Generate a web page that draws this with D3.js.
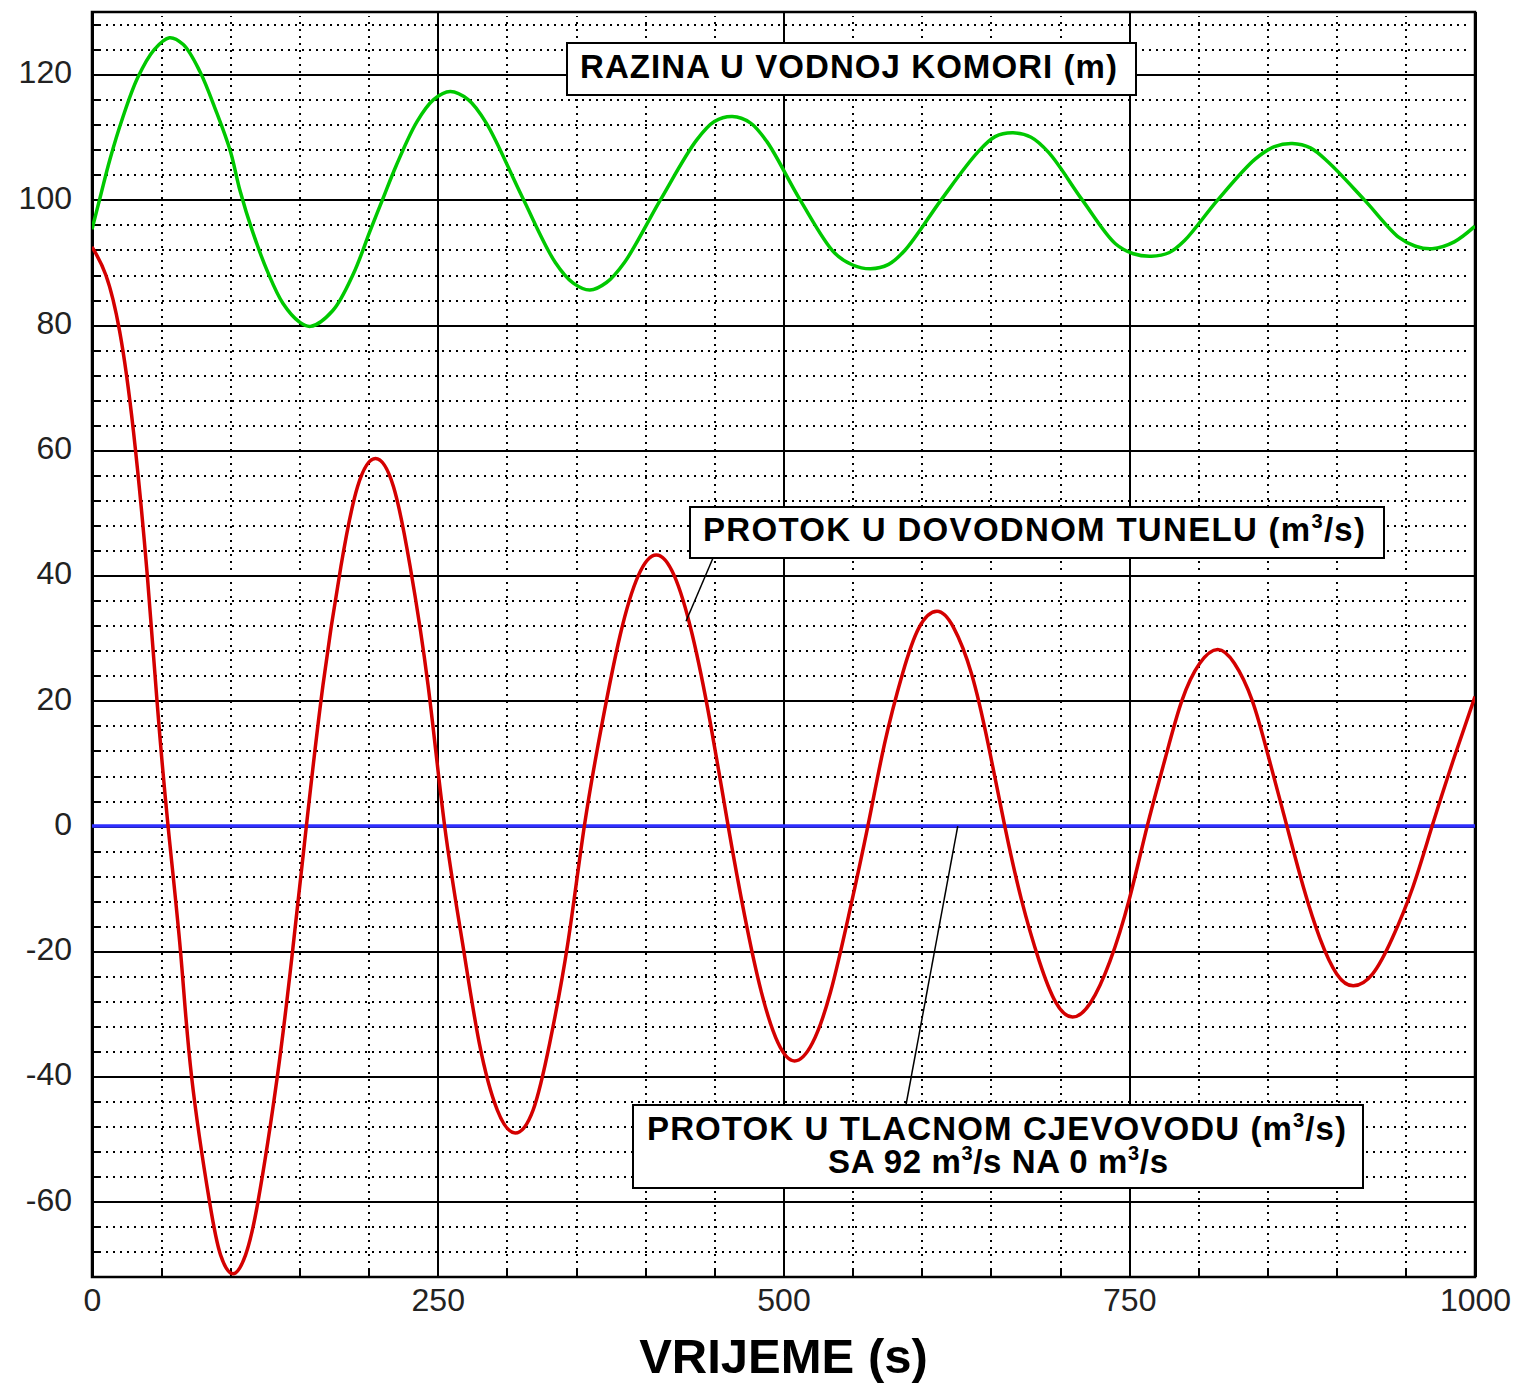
<!DOCTYPE html>
<html>
<head>
<meta charset="UTF-8">
<title>Vodna komora</title>
<script src="https://d3js.org/d3.v7.min.js"></script>
<style>
body { margin: 0; background: #fff; }
.minor line { stroke: #000; stroke-width: 2; stroke-dasharray: 2,5; shape-rendering: crispEdges; }
.major line { stroke: #000; stroke-width: 2; shape-rendering: crispEdges; }
.mtick line { stroke: #000; stroke-width: 2; shape-rendering: crispEdges; }
.domain { display: none; }
.lbl text { font-family: "Liberation Sans", Arial, sans-serif; font-size: 32px; fill: #222; }
.ann { font-family: "Liberation Sans", Arial, sans-serif; font-weight: bold; font-size: 33px; fill: #000; }
</style>
</head>
<body>
<script>
// vrijeme (s) i vrijednosti ocitane sa slike
var razinaT = [0, 6, 13, 22, 33, 45, 56, 66, 78, 90, 100, 107, 116, 127, 138, 150, 158, 174, 189, 201,
  210, 220, 235, 247, 259, 272, 285, 311, 335, 348, 360, 372, 385, 411, 437, 450, 463, 476, 488, 512,
  537, 550, 563, 576, 588, 614, 640, 653, 666, 679, 692, 716, 740, 753, 766, 779, 790, 814, 841, 855,
  868, 881, 894, 920, 945, 957, 969, 985, 1000];
var razinaV = [95.3, 100.5, 106.5, 113, 119.5, 124, 125.9, 124.8, 120.5, 114, 107.8, 101.5, 95, 88.5, 83.5, 80.5, 79.8, 82.3, 88.2, 95,
  100, 105.5, 112.5, 116, 117.3, 116, 112.3, 100.5, 90, 86.7, 85.6, 86.8, 90, 100, 109.5, 112.5, 113.3, 112.3, 109.3, 100,
  91.5, 89.6, 89, 89.7, 92, 100, 107.5, 110.1, 110.7, 110, 107.5, 100, 93, 91.4, 91, 91.6, 93.5, 100, 106.5, 108.5,
  109, 108.3, 106, 100, 94, 92.6, 92.2, 93.3, 95.8];

var tunelT = [0, 10, 20, 30, 40, 47, 55, 64, 72, 85, 93, 102, 111, 120, 134, 145, 155,
  167, 180, 192, 205, 218, 230, 243, 255, 268, 280, 293, 306, 319, 331, 344, 356,
  369, 382, 395, 408, 421, 434, 447, 460, 472, 484, 496, 508, 521, 534, 547, 561,
  573, 586, 598, 611, 623, 636, 648, 660, 672, 685, 697, 709, 722, 736, 750, 763,
  776, 788, 801, 814, 826, 839, 851, 864, 876, 888, 900, 912, 926, 940, 955, 969, 985, 1000];
var tunelV = [92.5, 88, 79, 63, 40, 20, 0, -20, -40, -60, -68.5, -71.5, -68.5, -60, -40, -20, 0,
  22.5, 41.5, 54.2, 58.7, 54.2, 41.5, 22.5, 0, -18.8, -34.6, -45.3, -49, -45.3, -34.6, -18.8, 0,
  16.6, 30.6, 40, 43.3, 40, 30.6, 16.6, 0, -14.4, -26.5, -34.6, -37.5, -34.6, -26.5, -14.4, 0,
  13.1, 24.3, 31.7, 34.3, 31.7, 24.3, 13.1, 0, -11.7, -21.6, -28.2, -30.5, -28.2, -21.6, -11.7, 0,
  10.8, 20, 26, 28.2, 26, 20, 10.8, 0, -9.8, -18, -23.6, -25.5, -23.6, -18, -9.8, 0, 11, 20.7];

var cjevT = [0, 1000];
var cjevV = [0, 0];

var xMajor = [0, 250, 500, 750, 1000];
var yMajor = [-60, -40, -20, 0, 20, 40, 60, 80, 100, 120];
var xMinor = d3.range(50, 1000, 50).filter(function(v) { return v % 250 != 0; });
var yMinor = d3.range(-68, 130, 4).filter(function(v) { return v % 20 != 0; });

var W = 1513, H = 1383;
var pLeft = 92, pRight = 1475, pTop = 12, pBottom = 1277;

var x = d3.scaleLinear().domain([0, 1000]).range([pLeft, pRight]);
var y = d3.scaleLinear().domain([-72, 130]).range([pBottom, pTop]);

var svg = d3.select("body").append("svg")
  .attr("width", W).attr("height", H);

// tockasta mreza
svg.append("g").attr("class", "minor")
  .attr("transform", "translate(" + pLeft + ",0)")
  .call(d3.axisLeft(y).tickValues(yMinor).tickSize(-(pRight - pLeft - 8)).tickFormat(""));
svg.append("g").attr("class", "minor")
  .attr("transform", "translate(0," + pBottom + ")")
  .call(d3.axisBottom(x).tickValues(xMinor).tickSize(-(pBottom - pTop - 4)).tickFormat(""));

// kratke crtice uz osi
svg.append("g").attr("class", "mtick")
  .attr("transform", "translate(" + pLeft + ",0)")
  .call(d3.axisLeft(y).tickValues(yMinor).tickSize(-8).tickFormat(""));
svg.append("g").attr("class", "mtick")
  .attr("transform", "translate(0," + pBottom + ")")
  .call(d3.axisBottom(x).tickValues(xMinor).tickSize(-9).tickFormat(""));

// glavna mreza + oznake
var gy = svg.append("g").attr("class", "major lbl")
  .attr("transform", "translate(" + pLeft + ",0)")
  .call(d3.axisLeft(y).tickValues(yMajor).tickSize(-(pRight - pLeft)).tickPadding(20).tickFormat(String));
gy.selectAll("text").attr("dy", "0.35em").attr("y", -3);
gy.attr("font-size", null).attr("font-family", null);

var gx = svg.append("g").attr("class", "major lbl")
  .attr("transform", "translate(0," + pBottom + ")")
  .call(d3.axisBottom(x).tickValues(xMajor).tickSize(-(pBottom - pTop)).tickPadding(12).tickFormat(String));
gx.attr("font-size", null).attr("font-family", null);
gx.selectAll("text").attr("y", 11);

svg.append("rect")
  .attr("x", pLeft).attr("y", pTop)
  .attr("width", pRight - pLeft).attr("height", pBottom - pTop)
  .attr("fill", "none").attr("stroke", "#000").attr("stroke-width", 2.5);

// krivulje
function lineWith(curve) {
  return d3.line()
    .x(function(d) { return x(d[0]); })
    .y(function(d) { return y(d[1]); })
    .curve(curve);
}

svg.append("clipPath").attr("id", "plot").append("rect")
  .attr("x", pLeft).attr("y", pTop - 2).attr("width", pRight - pLeft).attr("height", pBottom - pTop + 4);

var plot = svg.append("g").attr("clip-path", "url(#plot)");
plot.append("path").datum(d3.zip(cjevT, cjevV))
  .attr("d", lineWith(d3.curveLinear)).attr("fill", "none").attr("stroke", "#2f2fff").attr("stroke-width", 3.5);
plot.append("path").datum(d3.zip(razinaT, razinaV))
  .attr("d", lineWith(d3.curveCatmullRom.alpha(0.5))).attr("fill", "none").attr("stroke", "#00c800").attr("stroke-width", 3.5);
plot.append("path").datum(d3.zip(tunelT, tunelV))
  .attr("d", lineWith(d3.curveNatural)).attr("fill", "none").attr("stroke", "#d40000").attr("stroke-width", 3.5);

// pokazivaci
svg.append("line")
  .attr("x1", 713).attr("y1", 558).attr("x2", x(429.5)).attr("y2", y(32.7))
  .attr("stroke", "#000").attr("stroke-width", 1.5);
svg.append("line")
  .attr("x1", 906).attr("y1", 1105).attr("x2", x(626)).attr("y2", y(0))
  .attr("stroke", "#000").attr("stroke-width", 1.5);

// natpisi
function box(x0, y0, x1, y1) {
  svg.append("rect").attr("x", x0).attr("y", y0)
    .attr("width", x1 - x0).attr("height", y1 - y0)
    .attr("fill", "#fff").attr("stroke", "#000").attr("stroke-width", 2);
}
function sup(t, parts) {
  // parts: [tekst, eksponent, tekst, ...]
  parts.forEach(function(p, i) {
    if (i % 2 == 0) {
      t.append("tspan").attr("dy", i == 0 ? 0 : 13).text(p);
    } else {
      t.append("tspan").attr("font-size", 20).attr("dy", -13).text(p);
    }
  });
}

box(567, 43, 1136, 95);
svg.append("text").attr("class", "ann")
  .attr("x", 580).attr("y", 78)
  .attr("textLength", 537).attr("lengthAdjust", "spacing")
  .text("RAZINA U VODNOJ KOMORI (m)");

box(690, 507, 1384, 558);
var t2 = svg.append("text").attr("class", "ann")
  .attr("x", 703).attr("y", 541)
  .attr("textLength", 662).attr("lengthAdjust", "spacing");
sup(t2, ["PROTOK U DOVODNOM TUNELU (m", "3", "/s)"]);

box(633, 1105, 1363, 1188);
var t3 = svg.append("text").attr("class", "ann")
  .attr("x", 647).attr("y", 1140)
  .attr("textLength", 699).attr("lengthAdjust", "spacing");
sup(t3, ["PROTOK U TLACNOM CJEVOVODU (m", "3", "/s)"]);
var t4 = svg.append("text").attr("class", "ann")
  .attr("x", 828).attr("y", 1173)
  .attr("textLength", 340).attr("lengthAdjust", "spacing");
sup(t4, ["SA 92 m", "3", "/s NA 0 m", "3", "/s"]);

svg.append("text")
  .attr("x", x(500)).attr("y", 1373)
  .attr("text-anchor", "middle")
  .style("font-family", "'Liberation Sans', Arial, sans-serif")
  .style("font-weight", "bold")
  .style("font-size", "49px")
  .text("VRIJEME (s)");
</script>
</body>
</html>
